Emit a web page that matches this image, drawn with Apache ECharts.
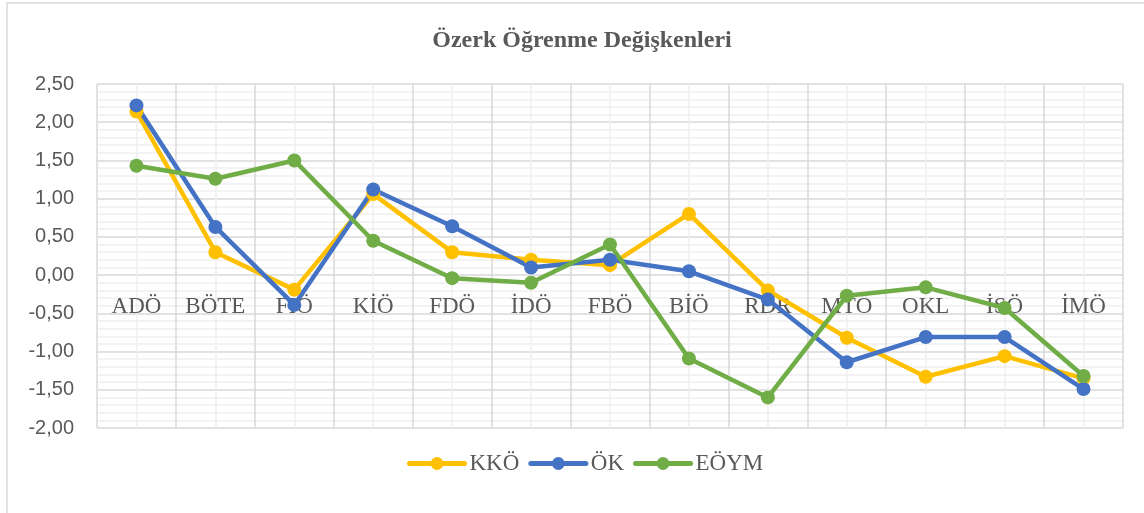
<!DOCTYPE html>
<html>
<head>
<meta charset="utf-8">
<script src="https://cdn.jsdelivr.net/npm/echarts@6/dist/echarts.min.js"></script>
<style>
html,body{margin:0;padding:0;background:#fff;}
#chart{width:1144px;height:513px;}
</style>
</head>
<body>
<div id="chart"></div>
<script>
const categories = ['ADÖ','BÖTE','FİÖ','KİÖ','FDÖ','İDÖ','FBÖ','BİÖ','RDR','MTÖ','OKL','İSÖ','İMÖ'];
const kko  = [2.14, 0.30, -0.19, 1.06, 0.30, 0.20, 0.13, 0.80, -0.20, -0.82, -1.33, -1.06, -1.35];
const ok   = [2.22, 0.63, -0.39, 1.12, 0.64, 0.10, 0.20, 0.05, -0.32, -1.14, -0.81, -0.81, -1.49];
const eoym = [1.43, 1.26, 1.50, 0.45, -0.04, -0.10, 0.40, -1.09, -1.60, -0.27, -0.16, -0.43, -1.32];
const seriesNames = ['KKÖ','ÖK','EÖYM'];
const titleText = 'Özerk Öğrenme Değişkenleri';
const yMin = -2, yMax = 2.5, yStep = 0.5;

const colors = ['#FFC000','#4472C4','#70AD47'];
const W = 1144, H = 513;
const gridBox = {left: 97, right: 21, top: 84, bottom: 85};
const gridH = H - gridBox.top - gridBox.bottom;
// move the category axis up to the value 0 line (Excel "axis crosses at 0")
const zeroOffset = -gridH * (0 - yMin) / (yMax - yMin);

const chart = echarts.init(document.getElementById('chart'), null, {renderer:'canvas'});

function mkSeries(name, data, color){
  return {
    name: name, type: 'line', data: data, xAxisIndex: 0,
    symbol: 'circle', symbolSize: 14,
    lineStyle: {color: color, width: 4.5, cap: 'round', join: 'round'},
    itemStyle: {color: color},
    emphasis: {disabled: true}
  };
}

chart.setOption({
  animation: false,
  backgroundColor: '#fff',
  graphic: [{
    type: 'rect', silent: true, z: -10,
    shape: {x: 7, y: 3, width: 1200, height: 600},
    style: {fill: 'none', stroke: '#d9d9d9', lineWidth: 1.5}
  }],
  title: {
    text: titleText,
    left: 577, top: 24, textAlign: 'center',
    textStyle: {fontFamily: 'Liberation Serif', fontWeight: 'bold', fontSize: 24, color: '#595959'}
  },
  legend: {
    data: seriesNames,
    left: 402, top: 447,
    itemWidth: 55, itemHeight: 16, itemGap: 9,
    lineStyle: {width: 5},
    textStyle: {fontFamily: 'Liberation Serif', fontSize: 23, color: '#595959'}
  },
  grid: gridBox,
  xAxis: [{
    type: 'category', data: categories, boundaryGap: true,
    position: 'bottom', offset: zeroOffset,
    axisLine: {show: false, onZero: false},
    axisTick: {show: false},
    splitLine: {show: false},
    axisLabel: {fontFamily: 'Liberation Serif', fontSize: 23, color: '#595959', margin: 20, interval: 0}
  }, {
    type: 'value', min: 0, max: 13, interval: 1, position: 'top',
    axisLine: {show: false, onZero: false}, axisTick: {show: false}, axisLabel: {show: false},
    splitLine: {show: true, lineStyle: {color: '#d9d9d9', width: 1.5}},
    minorTick: {show: false, splitNumber: 2},
    minorSplitLine: {show: true, lineStyle: {color: '#f0f0f0', width: 1.5}}
  }],
  yAxis: {
    type: 'value', min: yMin, max: yMax, interval: yStep,
    axisLine: {show: false, onZero: false}, axisTick: {show: false},
    axisLabel: {
      fontFamily: 'Liberation Sans', fontSize: 20, color: '#595959', margin: 23,
      formatter: v => v.toFixed(2).replace('.', ',')
    },
    splitLine: {show: true, lineStyle: {color: '#d9d9d9', width: 1.5}},
    minorTick: {show: false, splitNumber: 5},
    minorSplitLine: {show: true, lineStyle: {color: '#f0f0f0', width: 1.5}}
  },
  series: [
    mkSeries(seriesNames[0], kko, colors[0]),
    mkSeries(seriesNames[1], ok, colors[1]),
    mkSeries(seriesNames[2], eoym, colors[2])
  ]
});
</script>
</body>
</html>
